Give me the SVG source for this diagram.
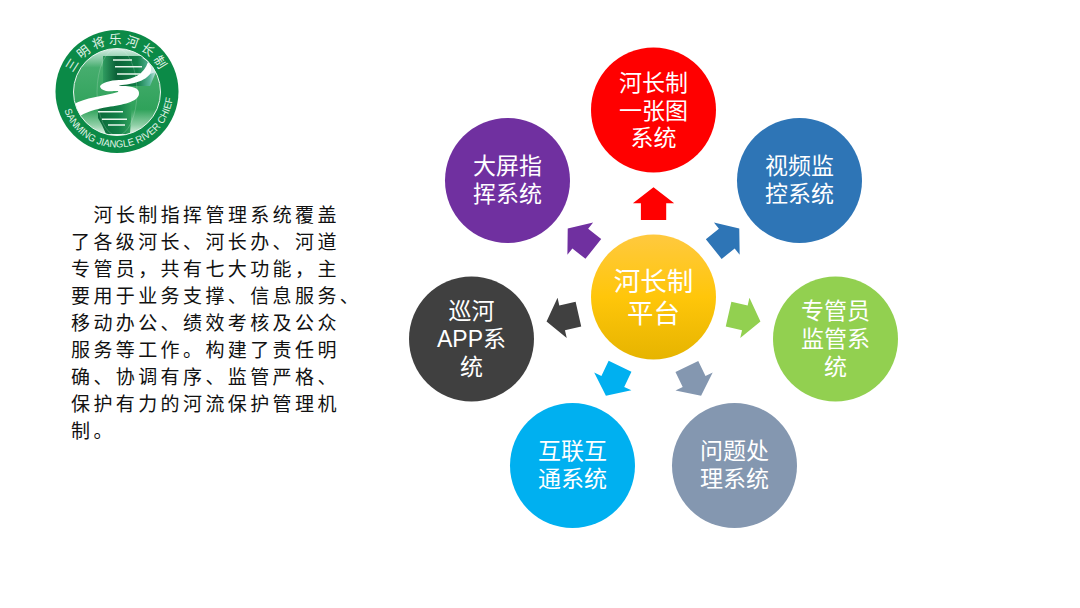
<svg xmlns="http://www.w3.org/2000/svg" width="1080" height="608" viewBox="0 0 1080 608">
<style>
text{font-family:"Noto Sans CJK SC","Noto Sans",sans-serif}
.n{font-size:23px;fill:#fff;text-anchor:middle}
.a{font-family:"Liberation Sans","Noto Sans CJK SC",sans-serif}
.h{font-size:26.5px;fill:#fff;text-anchor:middle}
.b{font-size:19px;letter-spacing:3.4px;fill:#111}
.r{font-family:"Liberation Sans",sans-serif;fill:#e2f3e8;font-size:10px}
.c{font-family:"Noto Sans CJK SC",sans-serif;fill:#e2f3e8;font-size:12.5px}
</style>
<defs>
<linearGradient id="hub" x1="0" y1="0" x2="0" y2="1"><stop offset="0" stop-color="#ffc93f"/><stop offset=".5" stop-color="#ffc60a"/><stop offset="1" stop-color="#e6b400"/></linearGradient>
<linearGradient id="disc" x1="0" y1="0" x2="0" y2="1"><stop offset="0" stop-color="#d6eee6"/><stop offset=".22" stop-color="#46ad6e"/><stop offset=".7" stop-color="#2fa25a"/><stop offset=".88" stop-color="#8fcfa6"/><stop offset="1" stop-color="#eef8f1"/></linearGradient>
<linearGradient id="up" x1="0" y1="0" x2="1" y2="0"><stop offset="0" stop-color="#2f9c60"/><stop offset=".25" stop-color="#0b6238"/><stop offset=".65" stop-color="#128048"/><stop offset=".88" stop-color="#58b59a"/><stop offset="1" stop-color="#c5e6e2"/></linearGradient>
<linearGradient id="lo" x1="0" y1="0" x2="1" y2="0"><stop offset="0" stop-color="#0b6a3a"/><stop offset=".6" stop-color="#128048"/><stop offset="1" stop-color="#33a25e"/></linearGradient>
<clipPath id="dc"><circle cx="117" cy="92" r="43.5"/></clipPath>
<path id="arrow" d="M653.5 187.3L674.2 203.3H666.2V220H640.9V203.3H632.9Z"/>
<path id="ringTop" d="M69.5 91.5A47.5 47.5 0 0 1 164.5 91.5"/>
<path id="ringBot" d="M61 91.5A56 56 0 0 0 173 91.5"/>
</defs>
<rect width="1080" height="608" fill="#fff"/>
<g id="logo">
<circle cx="117" cy="91.5" r="61.5" fill="#0b8a47"/>
<circle cx="117" cy="92" r="43.5" fill="url(#disc)"/>
<g clip-path="url(#dc)">
<path d="M103 56H146L152 60L156 72L150 86H103Z" fill="url(#up)"/>
<path d="M98 104H132L130 134H106L102 125L98 118Z" fill="url(#lo)"/>
<path d="M113 60H132M115 66.7H142M117 74H140M98 111.7H123M102 119.3H127M108 125H125" stroke="#e8f6ec" stroke-width="1.4" fill="none"/>
<path d="M100 86C104 81 114 80 122 80C134 79 144 74 148 62L153 68C150 80 135 84 122 85C118 86 118 86 122 86C132 86 140 88 139 94C138 102 122 105 108 107C96 109 85 112 77 118L74 104C84 98 104 96 118 92C120 90 112 92 106 91C102 90 100 88 100 86Z" fill="#fff"/>
<path d="M142 58C150 62 153 68 150 74L156 72L152 60Z" fill="#cfeae6"/>
<ellipse cx="117" cy="92" rx="20" ry="43.5" fill="none" stroke="#fff" stroke-opacity=".3" stroke-width=".6"/>
</g>
<circle cx="117" cy="92" r="43.5" fill="none" stroke="#e8f5ee" stroke-width="1"/>
<text class="c"><textPath href="#ringTop" startOffset="50%" text-anchor="middle" letter-spacing="3.4">三明将乐河长制</textPath></text>
<text class="r"><textPath href="#ringBot" startOffset="53.6%" text-anchor="middle" textLength="150" lengthAdjust="spacingAndGlyphs">SANMING JIANGLE RIVER CHIEF</textPath></text>
</g>
<g id="intro">
<text class="b" x="93.5" y="221.5">河长制指挥管理系统覆盖</text>
<text class="b" x="71" y="248.5">了各级河长、河长办、河道</text>
<text class="b" x="71" y="275.5">专管员，共有七大功能，主</text>
<text class="b" x="71" y="302.5">要用于业务支撑、信息服务、</text>
<text class="b" x="71" y="330">移动办公、绩效考核及公众</text>
<text class="b" x="71" y="357">服务等工作。构建了责任明</text>
<text class="b" x="71" y="384">确、协调有序、监管严格、</text>
<text class="b" x="71" y="411">保护有力的河流保护管理机</text>
<text class="b" x="71" y="438">制。</text>
</g>
<g id="connectors">
<use href="#arrow" fill="#ff0000"/>
<use href="#arrow" fill="#2e75b6" transform="rotate(51.43 653.5 297)"/>
<use href="#arrow" fill="#92d050" transform="rotate(102.86 653.5 297)"/>
<use href="#arrow" fill="#8497b0" transform="rotate(154.29 653.5 297)"/>
<use href="#arrow" fill="#00b0f0" transform="rotate(205.71 653.5 297)"/>
<use href="#arrow" fill="#404040" transform="rotate(257.14 653.5 297)"/>
<use href="#arrow" fill="#7030a0" transform="rotate(308.57 653.5 297)"/>
</g>
<g id="node-hub"><circle cx="653.5" cy="297" r="62.5" fill="url(#hub)"/><text class="h" x="653.5" y="291">河长制</text><text class="h" x="653.5" y="323">平台</text></g>
<g id="node-map"><circle cx="653.5" cy="110" r="62.5" fill="#ff0000"/><text class="n" x="653.5" y="91">河长制</text><text class="n" x="653.5" y="118.5">一张图</text><text class="n" x="653.5" y="146">系统</text></g>
<g id="node-video"><circle cx="799.5" cy="180.5" r="62.5" fill="#2e75b6"/><text class="n" x="799.5" y="174">视频监</text><text class="n" x="799.5" y="202">控系统</text></g>
<g id="node-supervise"><circle cx="835.5" cy="339" r="62.5" fill="#92d050"/><text class="n" x="835.5" y="319">专管员</text><text class="n" x="835.5" y="347">监管系</text><text class="n" x="835.5" y="375">统</text></g>
<g id="node-issue"><circle cx="734.5" cy="465.5" r="62.5" fill="#8497b0"/><text class="n" x="734.5" y="459">问题处</text><text class="n" x="734.5" y="487">理系统</text></g>
<g id="node-net"><circle cx="572.5" cy="465.5" r="62.5" fill="#00b0f0"/><text class="n" x="572.5" y="459">互联互</text><text class="n" x="572.5" y="487">通系统</text></g>
<g id="node-app"><circle cx="471.5" cy="339" r="62.5" fill="#404040"/><text class="n" x="471.5" y="319">巡河</text><text class="n a" x="471.5" y="347">APP系</text><text class="n" x="471.5" y="375">统</text></g>
<g id="node-screen"><circle cx="507.5" cy="180.5" r="62.5" fill="#7030a0"/><text class="n" x="507.5" y="174">大屏指</text><text class="n" x="507.5" y="202">挥系统</text></g>
</svg>
